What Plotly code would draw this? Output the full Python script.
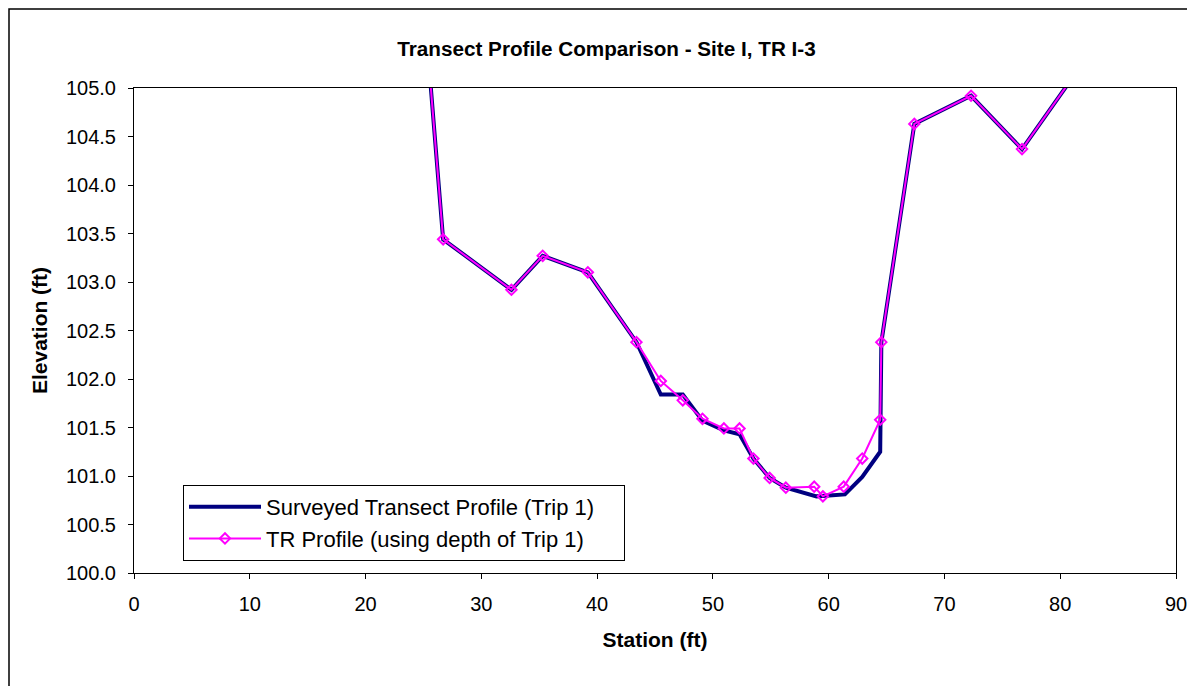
import plotly.graph_objects as go

# Surveyed transect profile (Trip 1)
station_surveyed = [25.3, 26.7, 32.6, 35.3, 39.2, 43.4, 45.5, 47.4, 49.1, 50.95, 52.3,
                    53.5, 54.9, 56.3, 58.95, 61.4, 62.9, 64.45, 64.55, 67.4, 72.3, 76.7, 82.5]
elev_surveyed = [105.5, 103.44, 102.92, 103.27, 103.10, 102.38, 101.84, 101.84, 101.57, 101.47, 101.43,
                 101.18, 100.98, 100.88, 100.79, 100.81, 100.99, 101.25, 102.38, 104.63, 104.92, 104.37, 105.35]

# TR profile (using depth of Trip 1)
station_tr = [25.3, 26.7, 32.6, 35.3, 39.2, 43.4, 45.5, 47.4, 49.1, 50.95, 52.3, 53.5,
              54.9, 56.3, 58.75, 59.5, 61.3, 62.9, 64.45, 64.55, 67.4, 72.3, 76.7, 82.5]
elev_tr = [105.5, 103.44, 102.92, 103.27, 103.10, 102.38, 101.98, 101.78, 101.59, 101.49, 101.49, 101.18,
           100.98, 100.88, 100.89, 100.79, 100.89, 101.18, 101.58, 102.38, 104.63, 104.92, 104.37, 105.35]

x_ticks = list(range(0, 91, 10))
y_ticks = [100.0, 100.5, 101.0, 101.5, 102.0, 102.5, 103.0, 103.5, 104.0, 104.5, 105.0]

font = "Liberation Sans, Arial, sans-serif"

# page body has an 8px margin, so the plot box is placed 8px up/left of the target
L, T, PW, PH = 126, 80, 1042, 485
W, H = 1195, 686
pad = "&nbsp;" * 4  # extra room on the right of the legend text

fig = go.Figure()
fig.add_trace(go.Scatter(x=station_surveyed, y=elev_surveyed, mode="lines",
                         name="Surveyed Transect Profile (Trip 1)" + pad,
                         line=dict(color="#000080", width=4)))
fig.add_trace(go.Scatter(x=station_tr, y=elev_tr, mode="lines+markers",
                         name="TR Profile (using depth of Trip 1)" + pad,
                         line=dict(color="#FF00FF", width=2),
                         marker=dict(symbol="diamond-open", size=8, color="#FF00FF",
                                     line=dict(width=2, color="#FF00FF"))))

# outer chart border
fig.add_shape(type="rect", xref="paper", yref="paper",
              x0=-(L - 1) / PW, x1=(W - L + 10) / PW,
              y0=-(H - T - PH + 10) / PH, y1=1 + (T - 1) / PH,
              line=dict(color="black", width=1.5), fillcolor="rgba(0,0,0,0)", layer="below")

fig.update_layout(
    width=W, height=H,
    margin=dict(l=L, r=W - L - PW, t=T, b=H - T - PH),
    paper_bgcolor="white", plot_bgcolor="white",
    font=dict(family=font, size=20, color="black"),
    title=dict(text="<b>Transect Profile Comparison - Site I, TR I-3</b>",
               font=dict(size=20.7, family=font), x=472.5 / PW, xref="paper",
               xanchor="center", y=1 - (T - 39) / H, yanchor="middle"),
    showlegend=True,
    legend=dict(x=49 / PW, y=88 / PH, xanchor="left", yanchor="top",
                bgcolor="white", bordercolor="black", borderwidth=1,
                font=dict(size=22, family=font), tracegroupgap=0, itemwidth=72),
)
fig.update_xaxes(range=[0, 90], tickvals=x_ticks, ticks="outside", ticklen=5, tickcolor="black",
                 showline=True, linecolor="black", linewidth=1, mirror=True,
                 showgrid=False, zeroline=False, ticklabelstandoff=8,
                 title=dict(text="<b>Station (ft)</b>", font=dict(size=21), standoff=18))
fig.update_yaxes(range=[100, 105], tickvals=y_ticks, tickformat=".1f", ticks="outside", ticklen=5,
                 tickcolor="black", showline=True, linecolor="black", linewidth=1, mirror=True,
                 showgrid=False, zeroline=False, ticklabelstandoff=8,
                 title=dict(text="<b>Elevation (ft)</b>", font=dict(size=21), standoff=12))

fig.write_html("out.html")
